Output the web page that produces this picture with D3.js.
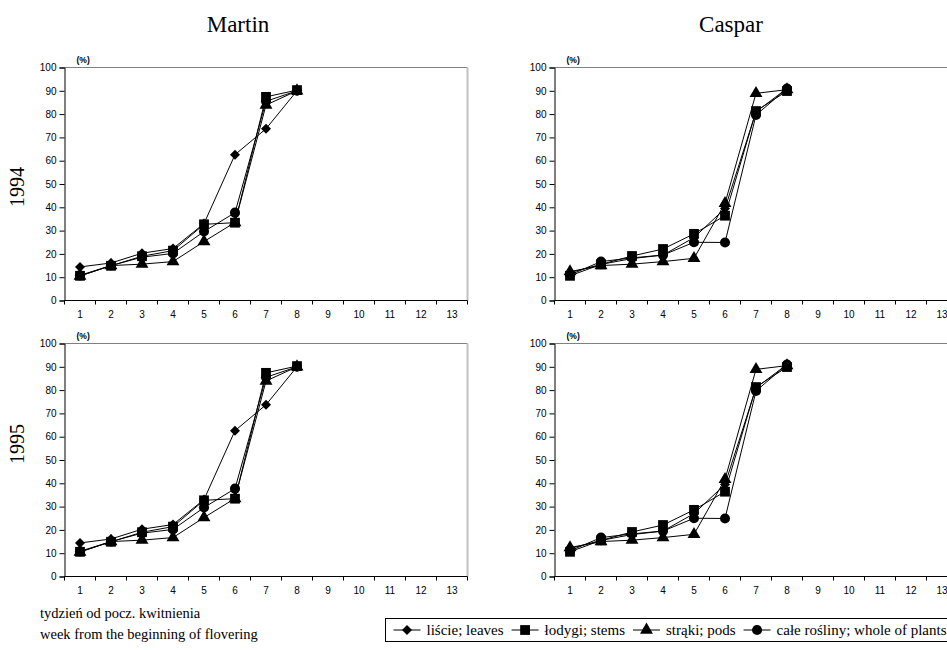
<!DOCTYPE html>
<html>
<head>
<meta charset="utf-8">
<script src="https://cdn.jsdelivr.net/npm/d3@7/dist/d3.min.js"></script>
<style>
  html, body { margin: 0; padding: 0; background: #fff; }
  svg { display: block; }
</style>
</head>
<body>
<svg id="chart" width="947" height="650"></svg>
<script>
// Weeks from the beginning of flowering
const weeks = [1, 2, 3, 4, 5, 6, 7, 8];
const weekTicks = [1, 2, 3, 4, 5, 6, 7, 8, 9, 10, 11, 12, 13];
const pctTicks = [0, 10, 20, 30, 40, 50, 60, 70, 80, 90, 100];

// Martin, 1994
const martin94Leaves = [14.4, 16.1, 20.3, 22.3, 33.0, 62.6, 73.7, 90.0];
const martin94Stems  = [10.6, 14.9, 19.0, 21.4, 32.7, 33.4, 87.4, 90.3];
const martin94Pods   = [10.5, 15.0, 15.6, 16.7, 25.3, 33.5, 83.9, 90.0];
const martin94Whole  = [10.8, 15.0, 18.6, 20.2, 29.6, 37.7, 85.5, 90.0];

// Caspar, 1994
const caspar94Leaves = [12.0, 15.5, 18.0, 19.5, 27.0, 39.5, 81.0, 91.0];
const caspar94Stems  = [10.6, 15.5, 19.1, 22.1, 28.6, 36.4, 81.3, 89.9];
const caspar94Pods   = [12.4, 15.0, 15.6, 16.7, 18.1, 41.7, 88.9, 90.5];
const caspar94Whole  = [11.0, 16.7, 18.3, 19.5, 25.0, 24.9, 79.6, 91.0];

// Martin, 1995
const martin95Leaves = [14.4, 16.1, 20.3, 22.3, 33.0, 62.6, 73.7, 90.0];
const martin95Stems  = [10.6, 14.9, 19.0, 21.4, 32.7, 33.4, 87.4, 90.3];
const martin95Pods   = [10.5, 15.0, 15.6, 16.7, 25.3, 33.5, 83.9, 90.0];
const martin95Whole  = [10.8, 15.0, 18.6, 20.2, 29.6, 37.7, 85.5, 90.0];

// Caspar, 1995
const caspar95Leaves = [12.0, 15.5, 18.0, 19.5, 27.0, 39.5, 81.0, 91.0];
const caspar95Stems  = [10.6, 15.5, 19.1, 22.1, 28.6, 36.4, 81.3, 89.9];
const caspar95Pods   = [12.4, 15.0, 15.6, 16.7, 18.1, 41.7, 88.9, 90.5];
const caspar95Whole  = [11.0, 16.7, 18.3, 19.5, 25.0, 24.9, 79.6, 91.0];

const varieties = ["Martin", "Caspar"];
const years = ["1994", "1995"];
const seriesNames = ["liście; leaves", "łodygi; stems", "strąki; pods", "całe rośliny; whole of plants"];
const seriesSymbols = ["diamond", "square", "triangle", "circle"];

const panels = [
  { col: 0, row: 0, series: [martin94Leaves, martin94Stems, martin94Pods, martin94Whole] },
  { col: 1, row: 0, series: [caspar94Leaves, caspar94Stems, caspar94Pods, caspar94Whole] },
  { col: 0, row: 1, series: [martin95Leaves, martin95Stems, martin95Pods, martin95Whole] },
  { col: 1, row: 1, series: [caspar95Leaves, caspar95Stems, caspar95Pods, caspar95Whole] }
];

const svg = d3.select("#chart");
const sans = "'Liberation Sans', Arial, sans-serif";
const serif = "'Liberation Serif', 'Times New Roman', serif";

const colLeft = [64.5, 554.5];
const rowTop = [67.5, 343.5];
const plotW = 403, plotH = 233;

const symbolGen = {
  diamond: d3.symbol().type(d3.symbolDiamond2).size(64),
  square: d3.symbol().type(d3.symbolSquare).size(96),
  triangle: d3.symbol().type(d3.symbolTriangle).size(72),
  circle: d3.symbol().type(d3.symbolCircle).size(80)
};

// draw order: stems on top
const drawOrder = [0, 2, 3, 1];

panels.forEach(p => {
  const g = svg.append("g").attr("transform", `translate(${colLeft[p.col]},${rowTop[p.row]})`);
  const x = d3.scaleBand().domain(weekTicks).range([0, plotW]).paddingInner(0).paddingOuter(0);
  const y = d3.scaleLinear().domain([0, 100]).range([plotH, 0]);

  // plot area frame (top and right)
  g.append("line").attr("x1", 0).attr("x2", plotW).attr("y1", 0).attr("y2", 0)
    .attr("stroke", "#808080").attr("stroke-width", 1);
  g.append("line").attr("x1", plotW).attr("x2", plotW).attr("y1", 0).attr("y2", plotH)
    .attr("stroke", "#c0c0c0").attr("stroke-width", 2);

  // y axis
  const yAxis = d3.axisLeft(y).tickValues(pctTicks).tickSize(5).tickPadding(3);
  const ya = g.append("g").call(yAxis);
  ya.select(".domain").attr("stroke", "#000");
  ya.selectAll(".tick line").attr("stroke", "#000");
  ya.selectAll(".tick text").attr("font-family", sans).attr("font-size", 10).attr("fill", "#000");

  // x axis: ticks on band boundaries, labels centred in bands
  const xa = g.append("g").attr("transform", `translate(0,${plotH})`);
  xa.append("line").attr("x1", 0).attr("x2", plotW).attr("stroke", "#000");
  xa.selectAll("line.t").data(d3.range(weekTicks.length + 1)).join("line")
    .attr("class", "t")
    .attr("x1", i => i * x.bandwidth()).attr("x2", i => i * x.bandwidth())
    .attr("y1", 0).attr("y2", 4).attr("stroke", "#000");
  xa.selectAll("text").data(weekTicks).join("text")
    .attr("x", d => x(d) + x.bandwidth() / 2).attr("y", 17)
    .attr("text-anchor", "middle")
    .attr("font-family", sans).attr("font-size", 10).text(d => d);

  // unit label
  g.append("text").attr("x", 12).attr("y", -5)
    .attr("font-family", sans).attr("font-weight", "bold").attr("font-size", 8.5)
    .text("(%)");

  const line = d3.line().x((d, i) => x(weeks[i]) + x.bandwidth() / 2).y(d => y(d));

  drawOrder.forEach(si => {
    g.append("path").datum(p.series[si]).attr("d", line)
      .attr("fill", "none").attr("stroke", "#000").attr("stroke-width", 1);
  });
  drawOrder.forEach(si => {
    const sym = seriesSymbols[si];
    g.selectAll(null).data(p.series[si]).join("path")
      .attr("transform", (d, i) => `translate(${x(weeks[i]) + x.bandwidth() / 2},${y(d)})`)
      .attr("d", symbolGen[sym]())
      .attr("fill", "#000");
  });
});

// column titles
varieties.forEach((v, i) => {
  svg.append("text").attr("x", [238, 731][i]).attr("y", 32)
    .attr("text-anchor", "middle").attr("font-family", serif).attr("font-size", 23)
    .text(v);
});

// row titles
years.forEach((yr, i) => {
  svg.append("text")
    .attr("transform", `translate(${24},${[187, 444][i]}) rotate(-90)`)
    .attr("text-anchor", "middle").attr("font-family", serif).attr("font-size", 20)
    .text(yr);
});

// x axis caption
svg.append("text").attr("x", 40).attr("y", 618)
  .attr("font-family", serif).attr("font-size", 14.5).text("tydzień od pocz. kwitnienia");
svg.append("text").attr("x", 40).attr("y", 639)
  .attr("font-family", serif).attr("font-size", 14.5).text("week from the beginning of flovering");

// legend: line sample + marker + label, laid out left to right
const lg = svg.append("g");
lg.append("rect").attr("x", 385.5).attr("y", 618.5).attr("width", 580).attr("height", 23)
  .attr("fill", "#fff").attr("stroke", "#000").attr("stroke-width", 1);
const legY = 630;
let cx = 393.5;
seriesNames.forEach((name, i) => {
  const x0 = cx;
  lg.append("line").attr("x1", x0).attr("x2", x0 + 27).attr("y1", legY).attr("y2", legY)
    .attr("stroke", "#000");
  lg.append("path").attr("transform", `translate(${x0 + 13.5},${legY})`)
    .attr("d", symbolGen[seriesSymbols[i]]()).attr("fill", "#000");
  const t = lg.append("text").attr("x", x0 + 33).attr("y", legY + 5)
    .attr("font-family", serif).attr("font-size", 15)
    .text(name);
  cx = x0 + 33 + t.node().getComputedTextLength() + 8;
});
</script>
</body>
</html>
